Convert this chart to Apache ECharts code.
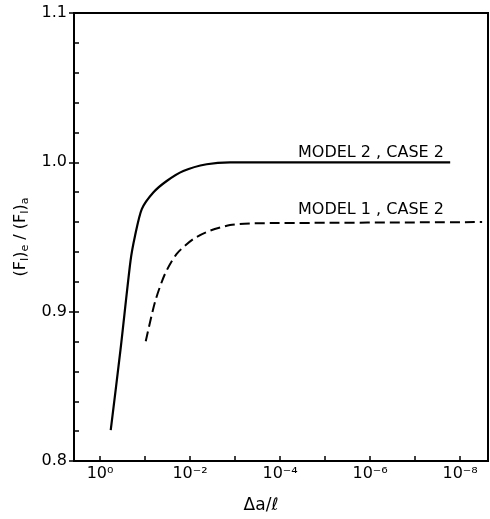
<!DOCTYPE html>
<html>
<head>
<meta charset="utf-8">
<script src="https://cdn.jsdelivr.net/npm/echarts@6/dist/echarts.min.js"></script>
<style>html,body{margin:0;padding:0;background:#fff;}#c{width:490px;height:519px;}</style>
</head>
<body>
<div id="c"></div>
<script>
// Δa/ℓ values (x) and (F_I)_e/(F_I)_a values (y)
const model2X = [0.578, 0.350, 0.210, 0.167, 0.118, 0.0655, 0.033, 0.0141, 0.00426, 0.00129, 1.66e-8];
const model2Y = [0.8207, 0.8747, 0.934, 0.9507, 0.9687, 0.9798, 0.9875, 0.9942, 0.9987, 1.0, 1.0];
const model1X = [0.0964, 0.060, 0.036, 0.0198, 0.00845, 0.0036, 0.00129, 4.65e-4, 1.67e-4, 3.24e-9];
const model1Y = [0.8802, 0.9065, 0.9253, 0.9387, 0.9487, 0.9542, 0.958, 0.9591, 0.9593, 0.960];
const seriesNames = ['MODEL 2 , CASE 2', 'MODEL 1 , CASE 2'];
const yTicks = [0.8, 0.9, 1.0, 1.1];
const xTickLabels = {'0': '10⁰', '-2': '10⁻²', '-4': '10⁻⁴', '-6': '10⁻⁶', '-8': '10⁻⁸'};

const font = 'DejaVu Sans';
const chart = echarts.init(document.getElementById('c'), null, {renderer: 'canvas'});
const zip = (xs, ys) => xs.map((x, i) => [x, ys[i]]);

chart.setOption({
  animation: false,
  backgroundColor: '#fff',
  grid: {left: 74, right: 2, top: 13, bottom: 56, show: true, borderColor: '#000', borderWidth: 2},
  xAxis: {
    type: 'log', logBase: 10, inverse: true,
    min: Math.pow(10, -8.62), max: Math.pow(10, 0.578),
    splitNumber: 10,
    name: 'Δa/ℓ', nameLocation: 'middle', nameGap: 36,
    nameTextStyle: {fontFamily: font, fontSize: 17, color: '#000', padding: [0, 40, 0, 0]},
    axisLine: {lineStyle: {color: '#000', width: 2}},
    axisTick: {inside: true, length: 5, lineStyle: {color: '#000', width: 1.5}},
    splitLine: {show: false},
    axisLabel: {
      showMinLabel: false, showMaxLabel: false, margin: 5,
      fontFamily: font, fontSize: 16, color: '#000',
      formatter: function (v) {
        const e = Math.log10(v);
        const r = Math.round(e);
        if (Math.abs(e - r) > 0.01) return '';
        return xTickLabels[String(r)] || '';
      }
    }
  },
  yAxis: [{
    type: 'value', min: 0.8, max: 1.1, interval: 0.1,
    name: '(F{s|I}){s|e} / (F{s|I}){s|a}', nameLocation: 'middle', nameRotate: 90, nameGap: 42,
    nameTextStyle: {fontFamily: font, fontSize: 16, color: '#000',
      rich: {s: {fontFamily: font, fontSize: 11, color: '#000', padding: [8, 0, 0, 0]}}},
    axisLine: {show: true, lineStyle: {color: '#000', width: 2}},
    axisTick: {show: true, inside: false, length: 5, lineStyle: {color: '#000', width: 1.5}},
    splitLine: {show: false},
    axisLabel: {fontFamily: font, fontSize: 16, color: '#000', margin: 7,
      formatter: v => yTicks.some(t => Math.abs(t - v) < 1e-6) ? v.toFixed(1) : ''}
  }, {
    type: 'value', min: 0.8, max: 1.1, interval: 0.02, position: 'left',
    axisLine: {show: false},
    axisTick: {show: true, inside: true, length: 5, lineStyle: {color: '#000', width: 1.5}},
    axisLabel: {show: false}, splitLine: {show: false}
  }],
  series: [{
    name: seriesNames[0], type: 'line', yAxisIndex: 0, data: zip(model2X, model2Y),
    smooth: 0.25, symbol: 'none', lineStyle: {color: '#000', width: 2.2}
  }, {
    name: seriesNames[1], type: 'line', yAxisIndex: 0, data: zip(model1X, model1Y),
    smooth: 0.25, symbol: 'none', lineStyle: {color: '#000', width: 2, type: [10, 5]}
  }],
  graphic: [
    {type: 'text', left: 298, top: 145, style: {text: seriesNames[0], fontFamily: font, fontSize: 16, fill: '#000'}},
    {type: 'text', left: 298, top: 202, style: {text: seriesNames[1], fontFamily: font, fontSize: 16, fill: '#000'}}
  ]
});
</script>
</body>
</html>
